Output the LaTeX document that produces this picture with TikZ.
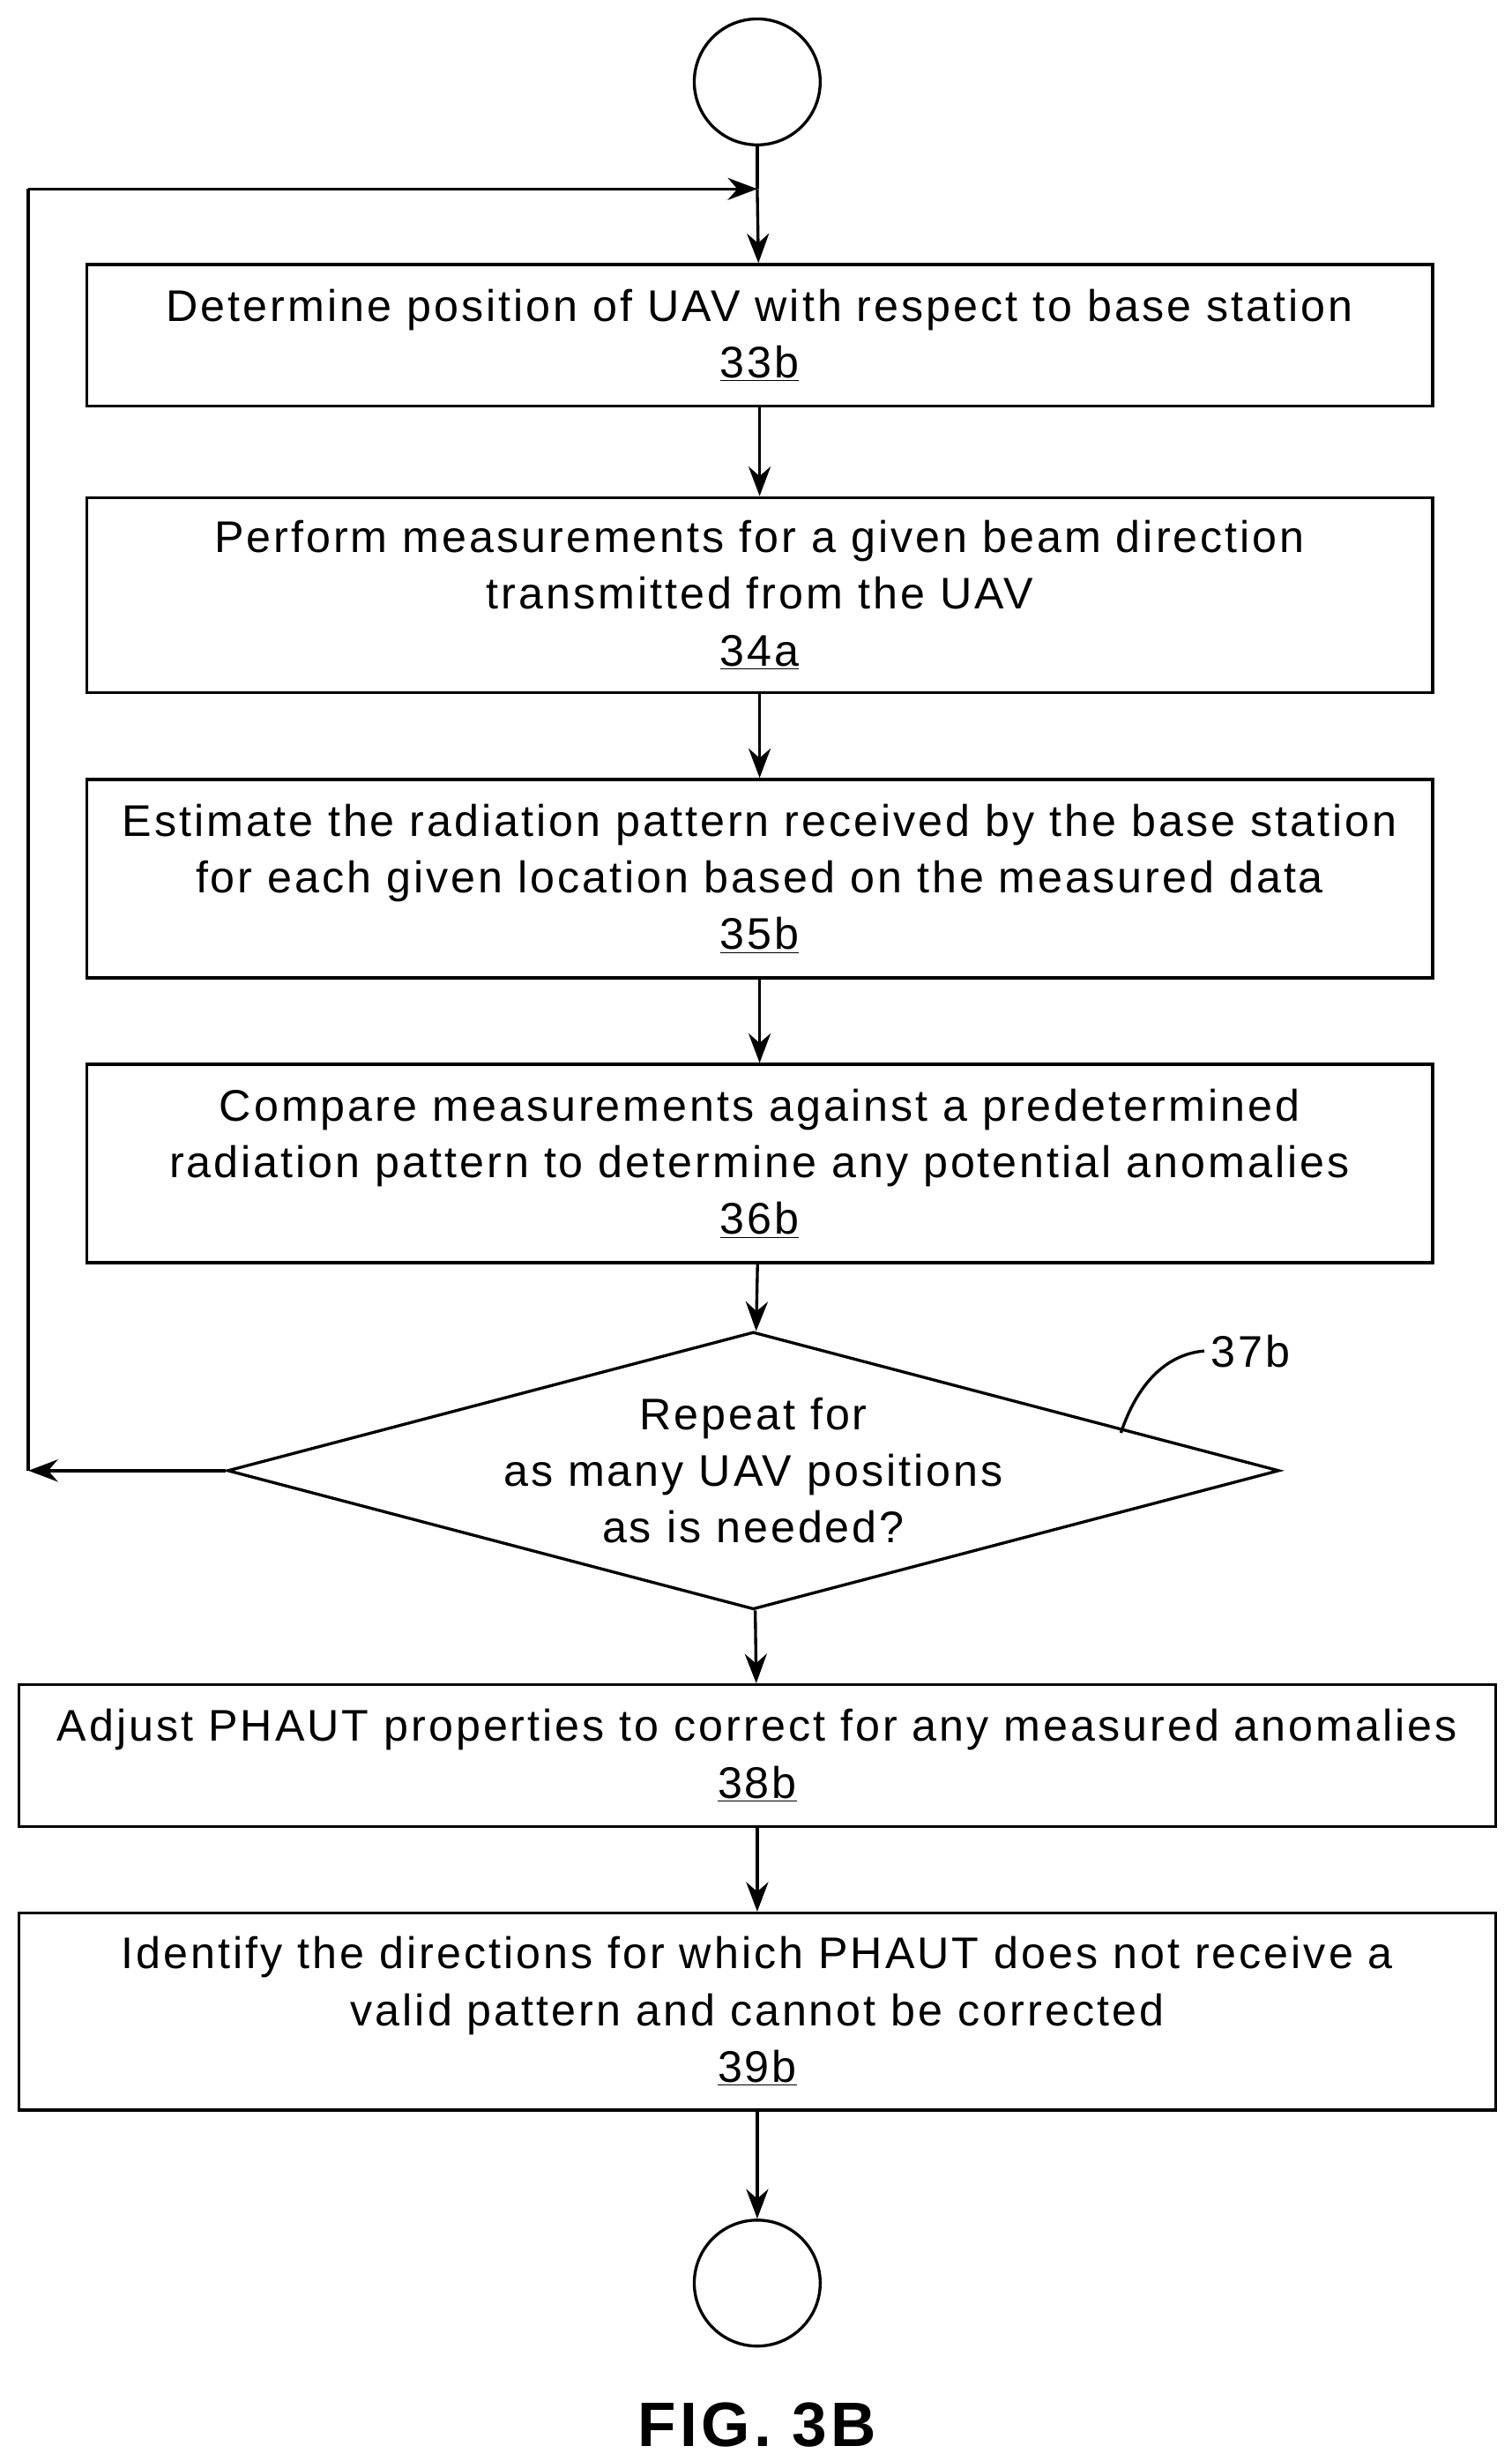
\documentclass[tikz,border=0pt]{standalone}
\usepackage{fontspec}
\setmainfont{Liberation Sans}[LetterSpace=6]
\usetikzlibrary{shapes.geometric,arrows.meta}
\tikzset{
  step/.style={draw,line width=1.6pt,minimum height=#1,align=center,inner sep=0pt},
  term/.style={draw,circle,line width=1.6pt,minimum size=2.4cm},
  flow/.style={line width=1.6pt,-{Stealth[length=16pt,width=12pt]}}
}
\newcommand{\ftxt}{\fontsize{24}{30.7}\selectfont}
\begin{document}
\begin{tikzpicture}[x=0.03cm,y=-0.03cm,font=\ftxt]
\useasboundingbox (0,0) rectangle (960,1563);

 \node[term] (start) at (481,52) {};
 \node[step=2.7cm,minimum width=25.65cm] (b33) at (482.5,213) {Determine position of UAV with respect to base station\\\underline{33b}};
 \node[step=3.72cm,minimum width=25.65cm] (b34) at (482.5,378) {Perform measurements for a given beam direction\\transmitted from the UAV\\\underline{34a}};
 \node[step=3.78cm,minimum width=25.65cm] (b35) at (482.5,558) {Estimate the radiation pattern received by the base station\\for each given location based on the measured data\\\underline{35b}};
 \node[step=3.78cm,minimum width=25.65cm] (b36) at (482.5,739) {Compare measurements against a predetermined\\radiation pattern to determine any potential anomalies\\\underline{36b}};
 \node[draw,line width=1.6pt,diamond,aspect=3.79,minimum width=18.3cm,minimum height=4.8cm,inner sep=0pt,align=center] (d37) at (478.5,934) {Repeat for\\as many UAV positions\\as is needed?};
 \node[step=2.7cm,minimum width=28.14cm] (b38) at (481,1115) {Adjust PHAUT properties to correct for any measured anomalies\\\underline{38b}};
 \node[step=3.75cm,minimum width=28.14cm] (b39) at (481,1277.5) {Identify the directions for which PHAUT does not receive a\\valid pattern and cannot be corrected\\\underline{39b}};
 \node[term] (stop) at (481,1450) {};
 \node[font=\fontsize{34}{40}\selectfont\bfseries] (fig) at (481,1540) {FIG. 3B};

 % reference label
 \node[anchor=west] (l37) at (765,858) {37b};
 \draw[line width=1.6pt] (712,910) .. controls (722,880) and (740,860) .. (l37.west);

 % main flow
 \coordinate (join) at (481,120);
 \coordinate (back) at (18,934);
 \coordinate (top) at (18,120);
 \draw[line width=1.6pt] (start) -- (join);
 \draw[flow] (join) -- (b33);
 \draw[flow] (b33) -- (b34);
 \draw[flow] (b34) -- (b35);
 \draw[flow] (b35) -- (b36);
 \draw[flow] (b36) -- (d37);
 \draw[flow] (d37) -- (b38);
 \draw[flow] (b38) -- (b39);
 \draw[flow] (b39) -- (stop);

 % loop back
 \draw[flow] (d37.west) -- (back);
 \draw[line width=1.6pt] (back) -- (top);
 \draw[flow] (top) -- (join);

\end{tikzpicture}
\end{document}
